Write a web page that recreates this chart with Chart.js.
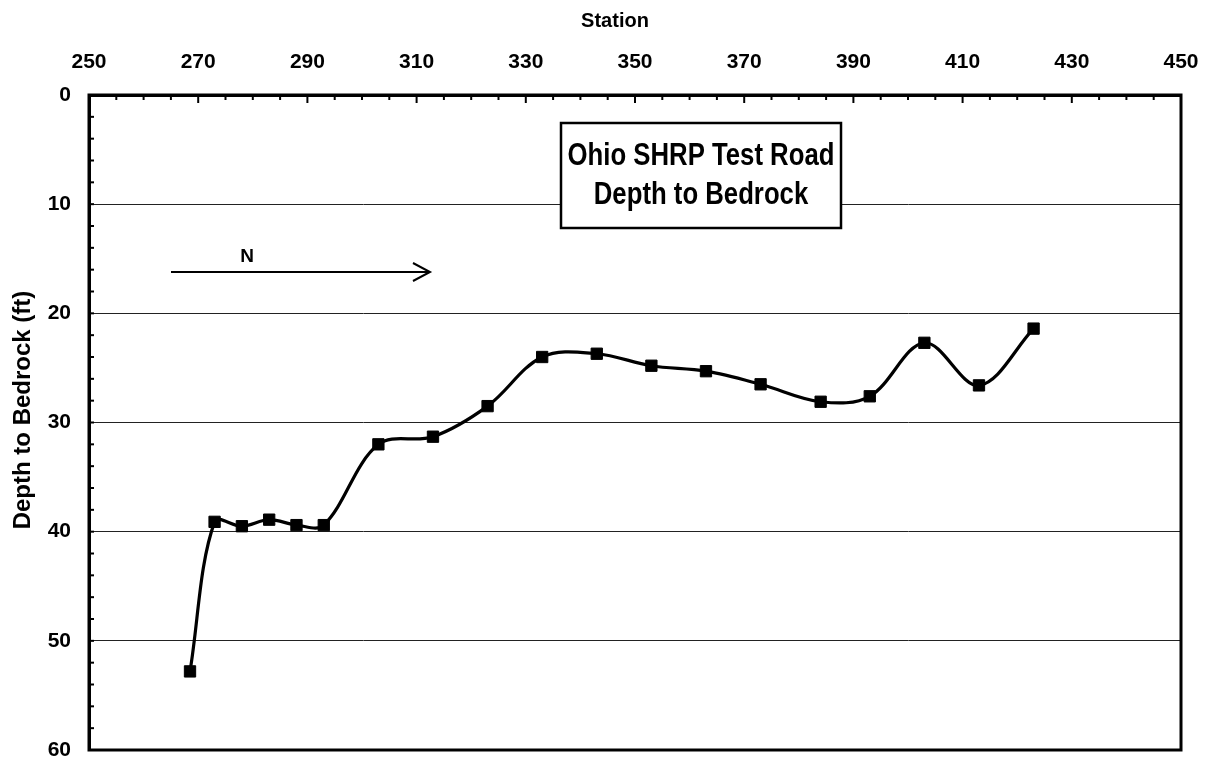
<!DOCTYPE html>
<html>
<head>
<meta charset="utf-8">
<script src="https://cdn.jsdelivr.net/npm/chart.js@4"></script>
<style>
  body { margin: 0; background: #fff; }
  #wrap { width: 1209px; height: 761px; }
</style>
</head>
<body>
<div id="wrap"><canvas id="grafico" width="1209" height="761"></canvas></div>
<script>
// dados
const estacoes = [268.5, 273, 278, 283, 288, 293, 303, 313, 323, 333, 343, 353, 363, 373, 384, 393, 403, 413, 423];
const profundidades = [52.8, 39.1, 39.5, 38.9, 39.4, 39.4, 32.0, 31.3, 28.5, 24.0, 23.7, 24.8, 25.3, 26.5, 28.1, 27.6, 22.7, 26.6, 21.4];
const tituloLinhas = ['Ohio SHRP Test Road', 'Depth to Bedrock'];
const rotuloSeta = 'N';
const tituloX = 'Station';
const tituloY = 'Depth to Bedrock (ft)';

const fonte = 'Arial, "Liberation Sans", sans-serif';

// caixa, ticks menores, títulos e seta
const extras = {
    id: 'extras',
    afterDraw(chart) {
        const ctx = chart.ctx;
        const a = chart.chartArea;
        const x = chart.scales.x;
        const y = chart.scales.y;
        ctx.save();
        ctx.strokeStyle = '#000';

        // ticks do eixo x (para dentro)
        ctx.lineWidth = 2;
        for (let v = 255; v < 450; v += 5) {
            const px = x.getPixelForValue(v);
            const len = (v - 250) % 20 === 0 ? 8 : 5;
            ctx.beginPath();
            ctx.moveTo(px, a.top);
            ctx.lineTo(px, a.top + len);
            ctx.stroke();
        }
        // ticks do eixo y
        for (let v = 2; v < 60; v += 2) {
            const py = y.getPixelForValue(v);
            ctx.beginPath();
            ctx.moveTo(a.left, py);
            ctx.lineTo(a.left + 5, py);
            ctx.stroke();
        }

        // moldura
        ctx.lineWidth = 3;
        ctx.strokeRect(a.left, a.top, a.right - a.left, a.bottom - a.top);

        // títulos dos eixos
        ctx.fillStyle = '#000';
        ctx.textAlign = 'center';
        ctx.textBaseline = 'middle';
        ctx.font = 'bold 20px ' + fonte;
        ctx.fillText(tituloX, 615, 21);
        ctx.save();
        ctx.translate(23, 410);
        ctx.rotate(-Math.PI / 2);
        ctx.font = 'bold 24px ' + fonte;
        ctx.fillText(tituloY, 0, 0);
        ctx.restore();

        // caixa do título
        ctx.fillStyle = '#fff';
        ctx.fillRect(561, 123, 280, 105);
        ctx.lineWidth = 2.5;
        ctx.strokeRect(561, 123, 280, 105);
        ctx.fillStyle = '#000';
        ctx.save();
        ctx.translate(701, 0);
        ctx.scale(0.83, 1);
        ctx.font = 'bold 31px ' + fonte;
        ctx.fillText(tituloLinhas[0], 0, 156);
        ctx.fillText(tituloLinhas[1], 0, 195);
        ctx.restore();

        // seta N
        ctx.lineWidth = 2;
        ctx.beginPath();
        ctx.moveTo(171, 272);
        ctx.lineTo(430, 272);
        ctx.moveTo(413, 263);
        ctx.lineTo(430, 272);
        ctx.lineTo(413, 281);
        ctx.stroke();
        ctx.font = 'bold 19px ' + fonte;
        ctx.fillText(rotuloSeta, 247, 257);
        ctx.restore();
    }
};

const ctxGrafico = document.getElementById('grafico').getContext('2d');
new Chart(ctxGrafico, {
    type: 'line',
    data: {
        datasets: [{
            label: 'Depth to Bedrock',
            data: estacoes.map((e, i) => ({ x: e, y: profundidades[i] })),
            borderColor: '#000',
            backgroundColor: '#000',
            borderWidth: 3.2,
            tension: 0.35,
            pointStyle: 'rect',
            pointRadius: 8,
            pointBorderWidth: 1,
            pointBackgroundColor: '#000',
            pointBorderColor: '#000',
            fill: false
        }]
    },
    options: {
        responsive: false,
        animation: false,
        layout: { padding: { top: 0, left: 0, right: 28, bottom: 11 } },
        plugins: {
            legend: { display: false },
            tooltip: { enabled: false }
        },
        scales: {
            x: {
                type: 'linear',
                position: 'top',
                min: 250,
                max: 450,
                afterFit: s => {
                    s.height = 95;
                    s.paddingLeft = 0;
                    s.paddingRight = 0;
                },
                ticks: {
                    stepSize: 20,
                    color: '#000',
                    font: { family: fonte, size: 21, weight: 'bold' },
                    padding: 20,
                    maxRotation: 0
                },
                grid: { display: false, drawTicks: false },
                border: { display: true, color: '#000', width: 3 }
            },
            y: {
                type: 'linear',
                reverse: true,
                min: 0,
                max: 60,
                afterFit: s => {
                    s.width = 89;
                    s.paddingTop = 0;
                    s.paddingBottom = 0;
                },
                ticks: {
                    stepSize: 10,
                    color: '#000',
                    font: { family: fonte, size: 21, weight: 'bold' },
                    padding: 18
                },
                grid: {
                    drawTicks: false,
                    lineWidth: 1,
                    color: c => (c.tick.value === 0 || c.tick.value === 60) ? 'rgba(0,0,0,0)' : '#222'
                },
                border: { display: true, color: '#000', width: 3 }
            }
        }
    },
    plugins: [extras]
});
</script>
</body>
</html>
